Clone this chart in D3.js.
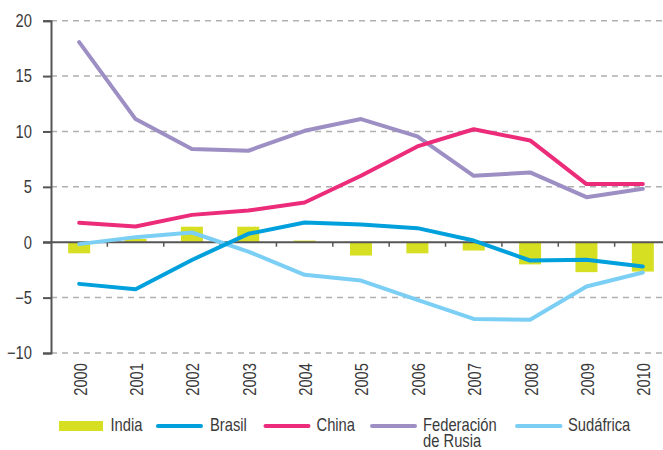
<!DOCTYPE html>
<html>
<head>
<meta charset="utf-8">
<script src="https://cdn.jsdelivr.net/npm/d3@7"></script>
<style>
  html, body { margin: 0; padding: 0; background: #fff; }
  svg { display: block; }
  text { font-family: "Liberation Sans", Arial, sans-serif; fill: #3a3a3a; font-size: 18px; }
</style>
</head>
<body>
<svg id="chart" width="663" height="450"></svg>
<script>
const years = ["2000","2001","2002","2003","2004","2005","2006","2007","2008","2009","2010"];
const india = [-1.0, 0.3, 1.4, 1.4, 0.15, -1.2, -1.0, -0.75, -2.0, -2.7, -2.65];
const brasil = [-3.76, -4.24, -1.6, 0.76, 1.78, 1.6, 1.27, 0.15, -1.65, -1.59, -2.2];
const china = [1.75, 1.42, 2.47, 2.86, 3.59, 6.0, 8.65, 10.2, 9.19, 5.25, 5.25];
const rusia = [18.07, 11.12, 8.41, 8.26, 10.06, 11.12, 9.55, 6.0, 6.3, 4.07, 4.82];
const sudafrica = [-0.17, 0.46, 0.88, -0.84, -2.94, -3.46, -5.2, -6.92, -7.0, -4.0, -2.73];
const yTicks = [-10, -5, 0, 5, 10, 15, 20];
const legendLabels = ["India", "Brasil", "China", "Federación de Rusia", "Sudáfrica"];

const colors = {
  india: "#d6df22",
  brasil: "#00a0dc",
  china: "#ec2c7a",
  rusia: "#9d8fc4",
  sudafrica: "#7ccff4"
};
const SX = 0.82; // condensed look

const svg = d3.select("#chart");
const mLeft = 51, mRight = 671, mTop = 20.7, mBottom = 353;
const x = d3.scaleBand().domain(years).range([mLeft, mRight]);
const y = d3.scaleLinear().domain([-10, 20]).range([mBottom, mTop]);
const gridRight = 663;

function addText(parent, px, py, str, anchor, rot) {
  const g = parent.append("g")
    .attr("transform", `translate(${px},${py})${rot ? ` rotate(${rot})` : ""} scale(${SX},1)`);
  return g.append("text").attr("text-anchor", anchor || "start").text(str);
}

// gridlines
svg.append("g").selectAll("line").data(yTicks.filter(d => d !== 0)).join("line")
  .attr("x1", mLeft).attr("x2", gridRight)
  .attr("y1", d => y(d)).attr("y2", d => y(d))
  .attr("stroke", "#b0b0b0").attr("stroke-width", 1.5)
  .attr("stroke-dasharray", "6,5");

// bars (India)
const bw = 22;
svg.append("g").selectAll("rect").data(years.map((yr, i) => ({yr, v: india[i]}))).join("rect")
  .attr("x", d => x(d.yr) + x.bandwidth() / 2 - bw / 2)
  .attr("width", bw)
  .attr("y", d => y(Math.max(0, d.v)))
  .attr("height", d => Math.abs(y(d.v) - y(0)))
  .attr("fill", colors.india);

// y axis
const yAxis = d3.axisLeft(y).tickValues(yTicks).tickSize(8).tickPadding(11).tickFormat(d3.format("d"));
const gy = svg.append("g").attr("transform", `translate(${mLeft},0)`).call(yAxis);
gy.select(".domain").attr("stroke", "#555").attr("stroke-width", 2);
gy.selectAll(".tick line").attr("stroke", "#555").attr("stroke-width", 2);
gy.selectAll(".tick text")
  .attr("fill", "#3a3a3a")
  .style("font-size", "18px")
  .style("font-family", "'Liberation Sans', Arial, sans-serif")
  .attr("x", -19 / SX)
  .attr("transform", `scale(${SX},1)`);

// zero line with boundary ticks
svg.append("line").attr("x1", 43).attr("x2", gridRight)
  .attr("y1", y(0)).attr("y2", y(0))
  .attr("stroke", "#555").attr("stroke-width", 2);
svg.append("g").selectAll("line").data(years.slice(1)).join("line")
  .attr("x1", d => x(d)).attr("x2", d => x(d))
  .attr("y1", y(0)).attr("y2", y(0) + 4.5)
  .attr("stroke", "#555").attr("stroke-width", 1.5);

// x labels
const gx = svg.append("g");
years.forEach(yr => {
  addText(gx, x(yr) + x.bandwidth() / 2 + 1, 363, yr, "end", -90).attr("dy", "0.36em");
});

// lines
const line = d3.line().x((d, i) => x(years[i]) + x.bandwidth() / 2).y(d => y(d));
const series = [
  {key: "brasil", values: brasil},
  {key: "china", values: china},
  {key: "rusia", values: rusia},
  {key: "sudafrica", values: sudafrica}
];
[series[2], series[1], series[3], series[0]].forEach(s => {
  svg.append("path").datum(s.values)
    .attr("d", line)
    .attr("fill", "none")
    .attr("stroke", colors[s.key])
    .attr("stroke-width", 4)
    .attr("stroke-linejoin", "round")
    .attr("stroke-linecap", "round");
});

// legend
const lg = svg.append("g");
const ly = 426;
const legendItems = [
  {key: "india", x0: 59, x1: 103, tx: 110.5, type: "rect"},
  {key: "brasil", x0: 156, x1: 203, tx: 210, type: "line"},
  {key: "china", x0: 263.5, x1: 310.5, tx: 316.5, type: "line"},
  {key: "rusia", x0: 370, x1: 417, tx: 423, type: "line"},
  {key: "sudafrica", x0: 515, x1: 562.5, tx: 568, type: "line"}
];
legendItems.forEach((it, i) => {
  if (it.type === "rect") {
    lg.append("rect").attr("x", it.x0).attr("y", ly - 5).attr("width", it.x1 - it.x0).attr("height", 10)
      .attr("fill", colors[it.key]);
  } else {
    lg.append("line").attr("x1", it.x0 + 2).attr("x2", it.x1 - 2).attr("y1", ly).attr("y2", ly)
      .attr("stroke", colors[it.key]).attr("stroke-width", 4).attr("stroke-linecap", "round");
  }
  const label = legendLabels[i];
  if (label === "Federación de Rusia") {
    addText(lg, it.tx, 431, "Federación");
    addText(lg, it.tx, 447, "de Rusia");
  } else {
    addText(lg, it.tx, 431, label);
  }
});
</script>
</body>
</html>
